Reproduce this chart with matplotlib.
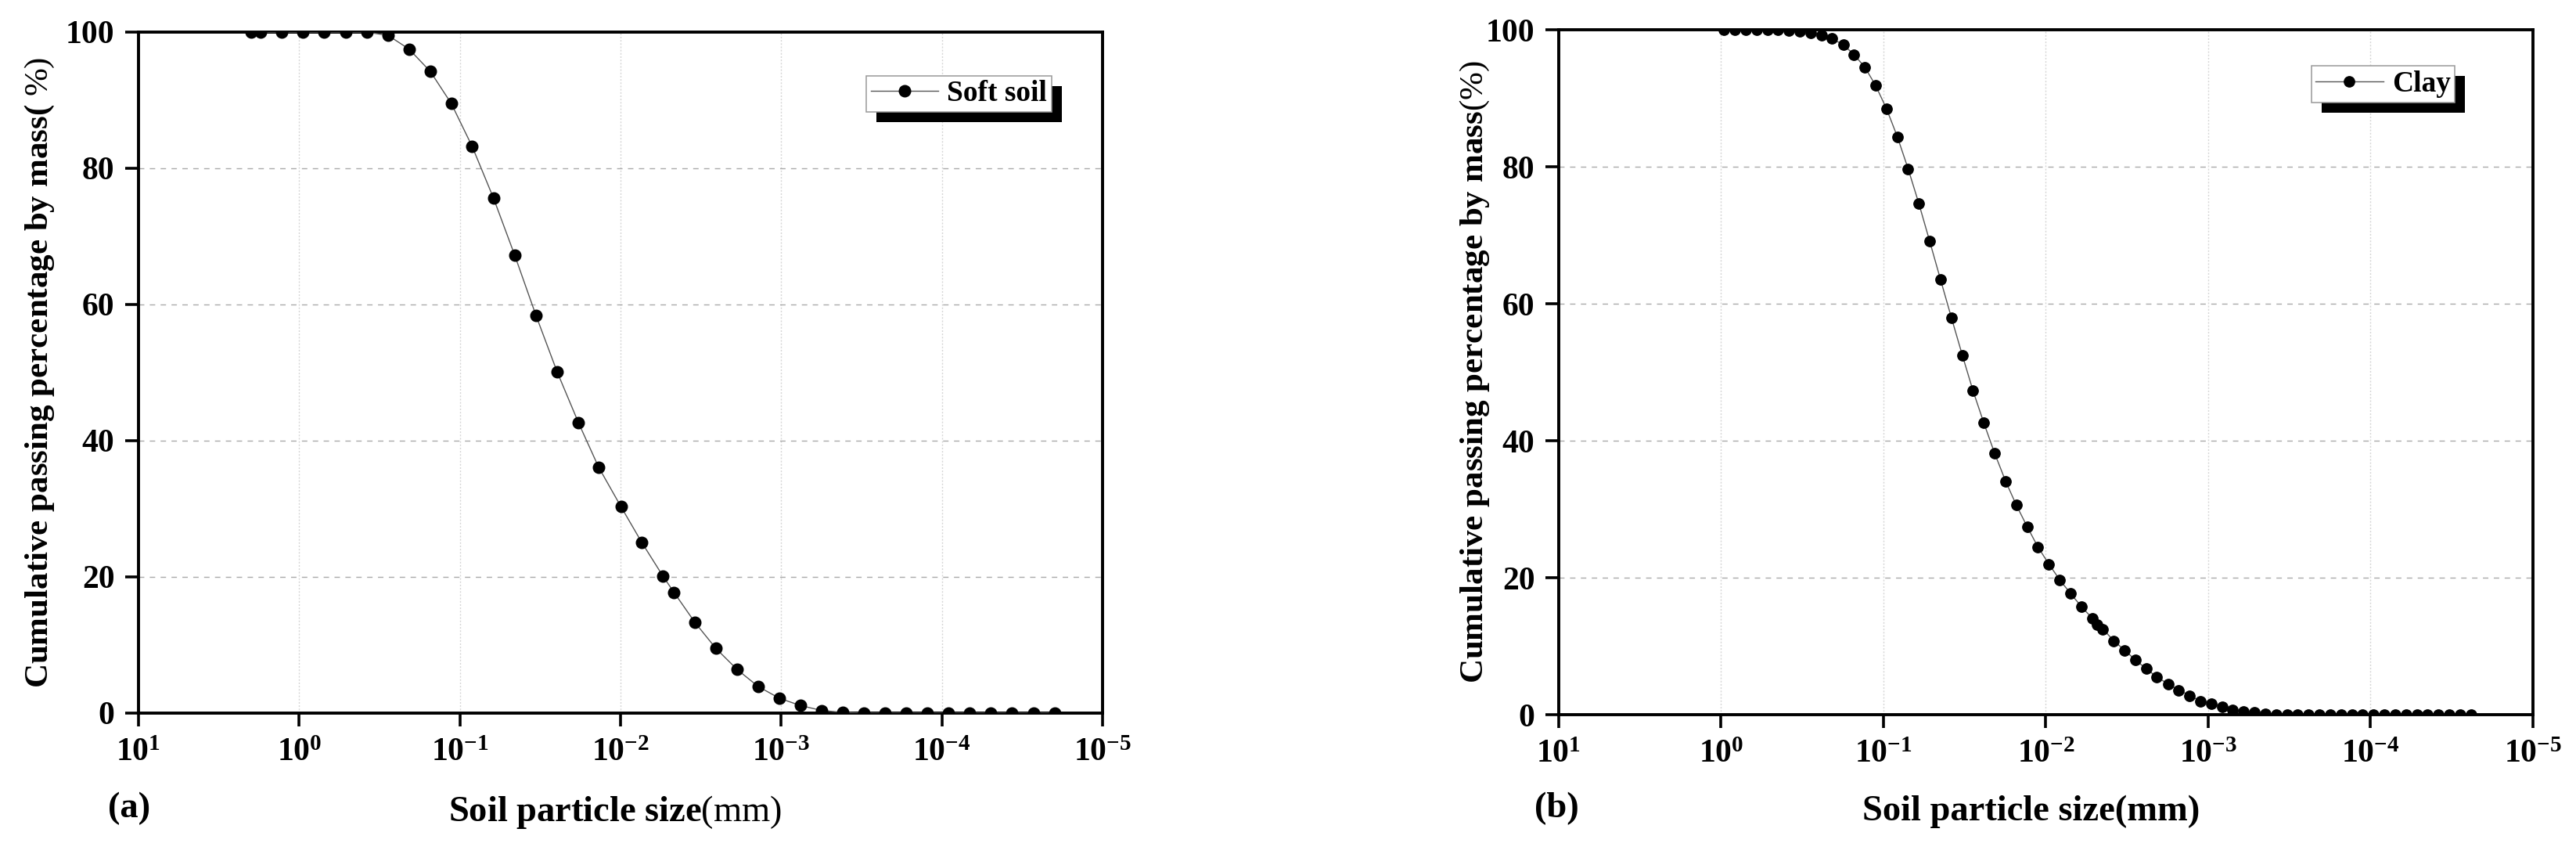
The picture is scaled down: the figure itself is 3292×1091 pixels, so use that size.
import matplotlib
matplotlib.use('Agg')
import matplotlib.pyplot as plt
from matplotlib.patches import Rectangle
from matplotlib.transforms import IdentityTransform
from matplotlib.ticker import NullLocator

# 字体设置
plt.rcParams['font.family'] = ['Liberation Serif', 'DejaVu Serif']
plt.rcParams['font.weight'] = 'bold'
plt.rcParams['mathtext.fontset'] = 'custom'
plt.rcParams['mathtext.rm'] = 'Liberation Serif:weight=normal'
plt.rcParams['mathtext.bf'] = 'Liberation Serif:bold'
plt.rcParams['mathtext.it'] = 'Liberation Serif:italic'

# (a) Soft soil 数据
soft_size = [1.995, 1.73, 1.285, 0.946, 0.698, 0.514, 0.378, 0.279, 0.207, 0.1525,
             0.113, 0.0838, 0.0617, 0.0455, 0.0336, 0.0248, 0.01824, 0.01368, 0.00993, 0.00735,
             0.00544, 0.00464, 0.00344, 0.00255, 0.00188, 0.00139, 0.00103, 0.000758, 0.000562, 0.000416,
             0.000307, 0.000225, 0.000167, 0.0001236, 9.08e-5, 6.73e-5, 4.98e-5, 3.66e-5, 2.67e-5, 1.98e-5]
soft_pass = [100, 100, 100, 100, 100, 100, 100, 99.5, 97.5, 94.2,
             89.5, 83.2, 75.6, 67.2, 58.4, 50.1, 42.6, 36.1, 30.3, 25.0,
             20.1, 17.7, 13.3, 9.5, 6.4, 3.9, 2.2, 1.1, 0.4, 0.1,
             0, 0, 0, 0, 0, 0, 0, 0, 0, 0]

# (b) Clay 数据
clay_size = [0.959, 0.822, 0.705, 0.605, 0.519, 0.445, 0.382, 0.327, 0.281, 0.241,
             0.207, 0.177, 0.152, 0.130, 0.112, 0.0959, 0.0822, 0.0705, 0.0605, 0.0519,
             0.0445, 0.0382, 0.0327, 0.0281, 0.0241, 0.0207, 0.0177, 0.0152, 0.0130, 0.0112,
             0.00959, 0.00822, 0.00705, 0.00605, 0.00519, 0.00485, 0.00445, 0.00382, 0.00327, 0.00281,
             0.00241, 0.00207, 0.00177, 0.00152, 0.00130, 0.00112, 0.000959, 0.000822, 0.000705, 0.000605,
             0.000519, 0.000445, 0.000382, 0.000327, 0.000281, 0.000241, 0.000207, 0.000177, 0.000152, 0.000130,
             0.000112, 9.59e-5, 8.22e-5, 7.05e-5, 6.05e-5, 5.19e-5, 4.45e-5, 3.82e-5, 3.27e-5, 2.81e-5,
             2.41e-5]
clay_pass = [100, 100, 100, 100, 100, 100, 99.9, 99.8, 99.6, 99.2,
             98.7, 97.8, 96.4, 94.5, 91.9, 88.5, 84.4, 79.7, 74.6, 69.1,
             63.5, 58.0, 52.5, 47.3, 42.6, 38.2, 34.1, 30.6, 27.4, 24.5,
             22.0, 19.7, 17.7, 15.8, 14.1, 13.2, 12.5, 10.8, 9.4, 8.0,
             6.7, 5.5, 4.5, 3.6, 2.8, 2.0, 1.6, 1.1, 0.7, 0.5,
             0.3, 0.1, 0, 0, 0, 0, 0, 0, 0, 0,
             0, 0, 0, 0, 0, 0, 0, 0, 0, 0,
             0]

x_ticks = [10, 1, 0.1, 0.01, 0.001, 0.0001, 0.00001]
y_ticks = [0, 20, 40, 60, 80, 100]

fig = plt.figure(figsize=(32.92, 10.91), dpi=100)
ax1 = fig.add_axes([0.05377, 0.16499, 0.37424, 0.79743])
ax2 = fig.add_axes([0.60510, 0.16315, 0.37819, 0.80201])

panels = [
    (ax1, soft_size, soft_pass, 'Soft soil', 10.5,
     r'Cumulative passing percentage by mass( $\mathrm{\%)}$',
     r'Soil particle size$\mathrm{(mm)}$', '(a)',
     (0.947, 0.936), -0.102, 0.494, -0.145, -0.010, -0.140),
    (ax2, clay_size, clay_pass, 'Clay', 9.6,
     r'Cumulative passing percentage by mass$\mathrm{(\%)}$',
     'Soil particle size(mm)', '(b)',
     (0.920, 0.947), -0.086, 0.485, -0.142, -0.002, -0.137),
]

legends = []
for ax, xs, ys, name, ms, ylab, xlab, tag, lpos, ylx, xlx, xly, tx, ty in panels:
    ax.plot(xs, ys, color='#555555', linewidth=1.0, marker='o', markersize=ms,
            markerfacecolor='black', markeredgecolor='black', label=name, zorder=3)
    ax.set_xscale('log')
    ax.set_xlim(10, 1e-5)
    ax.set_ylim(0, 100)
    ax.set_xticks(x_ticks)
    ax.set_yticks(y_ticks)
    ax.xaxis.set_minor_locator(NullLocator())

    # 网格
    ax.yaxis.grid(True, linestyle=(0, (5, 5)), color='#aaaaaa', linewidth=1.0)
    ax.xaxis.grid(True, linestyle=(0, (1.5, 1.5)), color='#d6d6d6', linewidth=1.0)
    ax.set_axisbelow(True)

    for sp in ax.spines.values():
        sp.set_linewidth(2.8)
    ax.tick_params(axis='both', which='major', direction='out', length=12, width=2.6,
                   labelsize=30, top=False, right=False)
    ax.tick_params(axis='x', pad=11)
    ax.tick_params(axis='y', pad=10)

    ax.text(ylx, 0.5, ylab, transform=ax.transAxes, rotation=90,
            ha='center', va='center', fontsize=31, fontweight='bold')
    ax.text(xlx, xly, xlab, transform=ax.transAxes, ha='center', va='center',
            fontsize=33.5, fontweight='bold')
    ax.text(tx, ty, tag, transform=ax.transAxes, ha='center', va='center',
            fontsize=33.5, fontweight='bold')

    leg = ax.legend(loc='upper right', bbox_to_anchor=lpos, borderaxespad=0,
                    fancybox=False, framealpha=1, edgecolor='#999999',
                    prop={'size': 27, 'weight': 'bold'}, handlelength=2.3,
                    handletextpad=0.3, borderpad=0.15)
    leg.get_frame().set_linewidth(1.1)
    legends.append((ax, leg))

# 图例阴影
fig.canvas.draw()
for ax, leg in legends:
    bb = leg.get_window_extent()
    shadow = Rectangle((bb.x0 + 13, bb.y0 - 13), bb.width, bb.height,
                       transform=IdentityTransform(), facecolor='black',
                       edgecolor='none', zorder=4.5)
    ax.add_artist(shadow)

fig.savefig('out.png', dpi=100)
